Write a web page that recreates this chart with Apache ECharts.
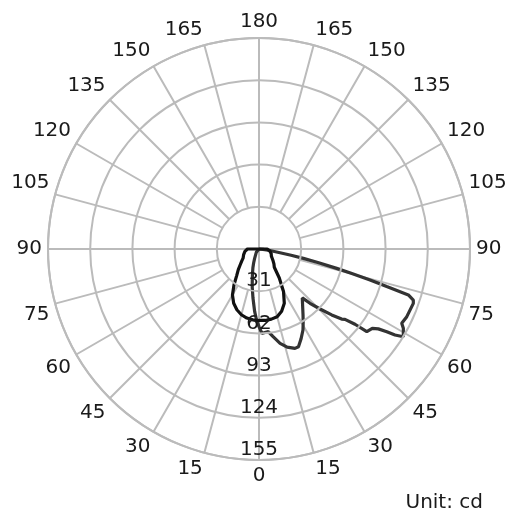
<!DOCTYPE html>
<html>
<head>
<meta charset="utf-8">
<script src="https://cdn.jsdelivr.net/npm/echarts@6/dist/echarts.min.js"></script>
<style>html,body{margin:0;padding:0;background:#fff;}#chart{width:509px;height:509px;}</style>
</head>
<body>
<div id="chart"></div>
<script>
// Ring (radius) ticks, cd
const ringMax = 155;
const ringStep = 31;
const unitText = 'Unit: cd';
// Angle tick positions (display angle, 0 = down, counter-clockwise)
const angleTicks = [0, 15, 30, 45, 60, 75, 90, 105, 120, 135, 150, 165, 180, 195, 210, 225, 240, 255, 270, 285, 300, 315, 330, 345];

// Gray curve (C0 right half / C180 left half): gamma angle (deg) and intensity (cd)
const grayC0Angles = [0, 2, 4, 6.4, 9, 12.6, 16, 19.9, 22, 25, 28.5, 31, 33.7, 38, 41.5, 43.2, 45.5, 47.8, 49.7, 50.7, 51.9, 52.5, 55, 56.2, 57.1, 57.7, 58.7, 61.2, 62.5, 65.4, 70.6, 71.7, 72.9, 73.6, 74.4, 75.2, 76, 77, 78.1, 79, 80, 82, 85, 90];
const grayC0Values = [57, 62, 61.5, 61.1, 65, 71, 75, 77.6, 77.4, 73, 67.7, 63, 58.3, 52, 48, 54.7, 62.9, 72.1, 79.6, 81.6, 89.6, 99.8, 101.6, 105.5, 111.8, 118.2, 124.1, 121, 118.2, 119.4, 120.2, 119.4, 114.8, 97.8, 84.7, 70, 58.8, 45, 33.3, 24, 15.7, 8, 3, 0];
const grayC180Angles = [2, 4, 7, 10, 12, 15, 18, 21, 25, 30, 40, 60, 90];
const grayC180Values = [52, 46, 36.3, 28.6, 23.8, 18.5, 14.5, 11, 7.6, 5, 3, 1.5, 0];

// Black curve (C90 right half / C270 left half)
const blackRightAngles = [0, 5, 10, 15, 20, 25, 30, 35, 40, 45, 50, 55, 60, 70, 80, 90, 100];
const blackRightValues = [52.5, 52.7, 52.3, 51.5, 48.6, 44, 36, 26, 17.5, 15.5, 13.5, 11.8, 10.5, 9.5, 8, 6, 0];
const blackLeftAngles = [5, 10, 15, 20, 25, 30, 35, 40, 45, 50, 55, 60, 70, 80, 90, 100];
const blackLeftValues = [52.2, 51.5, 50, 47.5, 44, 39, 32, 25.5, 21.5, 18, 15.5, 13.5, 12, 10.5, 8.5, 0];

function buildPath(leftAngles, leftValues, rightAngles, rightValues) {
  const pts = [];
  for (let i = leftAngles.length - 1; i >= 0; i--) pts.push([leftValues[i], 360 - leftAngles[i]]);
  for (let i = 0; i < rightAngles.length; i++) pts.push([rightValues[i], rightAngles[i]]);
  return pts;
}

const grid = '#bbbbbb';
const font = 'DejaVu Sans';
const textColor = '#1a1a1a';
const cx = 259, cy = 249, R = 211, innerR = 42, labelGap = 6;
const labelRadius = ringMax * (R + labelGap) / R;

function angleLabelItem(v) {
  const rad = v * Math.PI / 180;
  const sx = Math.sin(rad), sy = Math.cos(rad);
  const align = Math.abs(sx) < 0.01 ? 'center' : (sx > 0 ? 'left' : 'right');
  const valign = Math.abs(sy) < 0.01 ? 'middle' : (sy > 0 ? 'top' : 'bottom');
  return {
    value: [labelRadius, v],
    label: {align: align, verticalAlign: valign},
    name: String(v <= 180 ? v : 360 - v)
  };
}

const chart = echarts.init(document.getElementById('chart'));
chart.setOption({
  animation: false,
  backgroundColor: '#ffffff',
  title: {
    text: unitText, right: 21, top: 488,
    textStyle: {fontSize: 20, fontWeight: 'normal', color: textColor, fontFamily: font}
  },
  polar: [
    {center: [cx, cy], radius: R},
    {center: [cx, cy], radius: [innerR, R]},
    {center: [cx, cy], radius: R}
  ],
  angleAxis: [
    {
      polarIndex: 0, type: 'value', min: 0, max: 360, interval: 15, startAngle: 270, clockwise: false,
      axisLine: {show: true, lineStyle: {color: grid, width: 2}},
      axisTick: {show: false},
      splitLine: {show: false},
      axisLabel: {show: false}
    },
    {
      polarIndex: 1, type: 'value', min: 0, max: 360, interval: 15, startAngle: 270, clockwise: false,
      axisLine: {show: false}, axisTick: {show: false}, axisLabel: {show: false},
      splitLine: {show: true, lineStyle: {color: grid, width: 2}}
    },
    {
      polarIndex: 2, type: 'value', min: 0, max: 360, interval: 90, startAngle: 270, clockwise: false,
      axisLine: {show: false}, axisTick: {show: false}, axisLabel: {show: false},
      splitLine: {show: true, lineStyle: {color: grid, width: 2}}
    }
  ],
  radiusAxis: [
    {
      polarIndex: 0, type: 'value', min: 0, max: ringMax, interval: ringStep,
      axisLine: {show: false}, axisTick: {show: false},
      splitLine: {show: true, lineStyle: {color: grid, width: 2}},
      axisLabel: {
        show: true, margin: 0, align: 'center', verticalAlign: 'bottom',
        fontSize: 20, color: textColor, fontFamily: font,
        formatter: v => (v === 0 ? '' : String(v))
      },
      z: 5
    },
    {
      polarIndex: 1, type: 'value', min: 0, max: ringMax,
      axisLine: {show: false}, axisTick: {show: false}, axisLabel: {show: false}, splitLine: {show: false}
    },
    {
      polarIndex: 2, type: 'value', min: 0, max: ringMax,
      axisLine: {show: false}, axisTick: {show: false}, axisLabel: {show: false}, splitLine: {show: false}
    }
  ],
  series: [
    {
      type: 'line', coordinateSystem: 'polar', polarIndex: 0,
      data: buildPath(grayC180Angles, grayC180Values, grayC0Angles, grayC0Values),
      symbol: 'none', lineStyle: {color: '#333333', width: 3.2}, z: 3
    },
    {
      type: 'line', coordinateSystem: 'polar', polarIndex: 0,
      data: buildPath(blackLeftAngles, blackLeftValues, blackRightAngles, blackRightValues),
      symbol: 'none', lineStyle: {color: '#111111', width: 3.2}, z: 4
    },
    {
      type: 'scatter', coordinateSystem: 'polar', polarIndex: 0, clip: false,
      symbolSize: 0, silent: true, z: 5,
      itemStyle: {opacity: 1, color: textColor},
      emphasis: {disabled: true},
      data: angleTicks.map(angleLabelItem),
      label: {
        show: true, position: 'inside', formatter: p => p.name,
        fontSize: 20, color: textColor, fontFamily: font, opacity: 1,
        textBorderWidth: 0
      }
    }
  ]
});
</script>
</body>
</html>
